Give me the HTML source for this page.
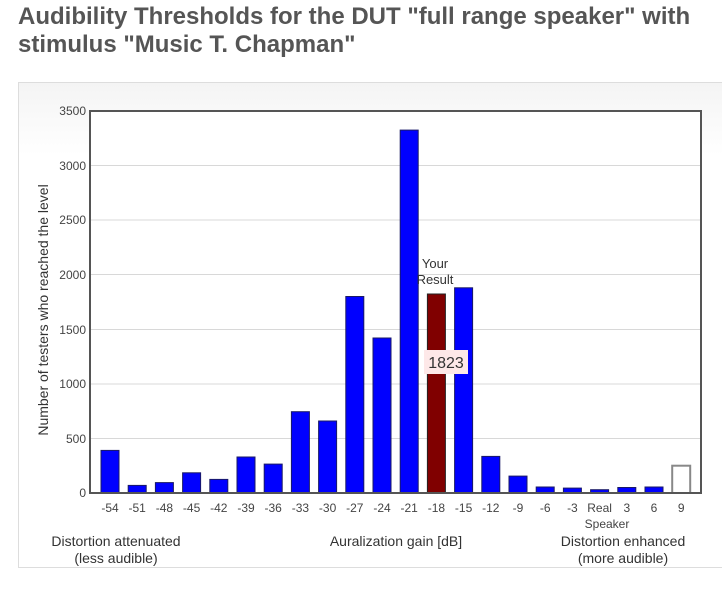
<!DOCTYPE html>
<html><head><meta charset="utf-8"><style>
body{margin:0;background:#fff;width:722px;height:590px;overflow:hidden;font-family:"Liberation Sans",Arial,sans-serif}
h1{position:absolute;left:18px;top:3px;margin:0;font-size:24px;line-height:28px;font-weight:bold;color:#555;white-space:nowrap}
</style></head><body>
<h1>Audibility Thresholds for the DUT "full range speaker" with<br>stimulus "Music T. Chapman"</h1>
<svg width="722" height="590" style="position:absolute;left:0;top:0" font-family="Liberation Sans, Arial, sans-serif">
<defs><linearGradient id="g" x1="0" y1="0" x2="0" y2="1"><stop offset="0" stop-color="#f4f4f4"/><stop offset="0.15" stop-color="#fff"/></linearGradient></defs>
<rect x="18.5" y="82.5" width="710" height="485" fill="url(#g)" stroke="#ddd"/>
<rect x="90" y="111" width="611" height="382" fill="#fff"/>
<g stroke="#d8d8d8" stroke-width="1">
<line x1="90" x2="701" y1="438.5" y2="438.5"/><line x1="90" x2="701" y1="384" y2="384"/><line x1="90" x2="701" y1="329.5" y2="329.5"/><line x1="90" x2="701" y1="274.5" y2="274.5"/><line x1="90" x2="701" y1="220" y2="220"/><line x1="90" x2="701" y1="165.5" y2="165.5"/>
</g>
<g fill="#00f" stroke="#1a1a66" stroke-width="1">
<rect x="101" y="450.4" width="18" height="42.6"/>
<rect x="128.2" y="485.4" width="18" height="7.6"/>
<rect x="155.4" y="482.6" width="18" height="10.4"/>
<rect x="182.6" y="472.8" width="18" height="20.2"/>
<rect x="209.8" y="479.4" width="18" height="13.6"/>
<rect x="237" y="457" width="18" height="36"/>
<rect x="264.2" y="464.1" width="18" height="28.9"/>
<rect x="291.4" y="411.7" width="18" height="81.3"/>
<rect x="318.6" y="421" width="18" height="72"/>
<rect x="345.8" y="296.5" width="18" height="196.5"/>
<rect x="373" y="338" width="18" height="155"/>
<rect x="400.2" y="130.1" width="18" height="362.9"/>
<rect x="427.4" y="294" width="18" height="199" fill="#800000" stroke="#222"/>
<rect x="454.6" y="287.8" width="18" height="205.2"/>
<rect x="481.8" y="456.4" width="18" height="36.6"/>
<rect x="509" y="476.1" width="18" height="16.9"/>
<rect x="536.2" y="487" width="18" height="6"/>
<rect x="563.4" y="488.1" width="18" height="4.9"/>
<rect x="590.6" y="489.7" width="18" height="3.3"/>
<rect x="617.8" y="487.5" width="18" height="5.5"/>
<rect x="645" y="487" width="18" height="6"/>
<rect x="672.2" y="465.7" width="18" height="27.3" fill="#fff" stroke="#888" stroke-width="2"/>
</g>
<path d="M90,111V493H701V111Z" fill="none" stroke="#555" stroke-width="2"/>
<g font-size="12" fill="#444" text-anchor="end">
<text x="86" y="497">0</text><text x="86" y="443">500</text><text x="86" y="388">1000</text><text x="86" y="334">1500</text><text x="86" y="279">2000</text><text x="86" y="224">2500</text><text x="86" y="170">3000</text><text x="86" y="115">3500</text>
</g>
<text transform="translate(48,310) rotate(-90)" text-anchor="middle" font-size="14" fill="#333">Number of testers who reached the level</text>
<g font-size="12" fill="#444" text-anchor="middle">
<text x="110" y="512">-54</text><text x="137.2" y="512">-51</text><text x="164.4" y="512">-48</text><text x="191.6" y="512">-45</text><text x="218.8" y="512">-42</text><text x="246" y="512">-39</text><text x="273.2" y="512">-36</text><text x="300.4" y="512">-33</text><text x="327.6" y="512">-30</text><text x="354.8" y="512">-27</text><text x="382" y="512">-24</text><text x="409.2" y="512">-21</text><text x="436.4" y="512">-18</text><text x="463.6" y="512">-15</text><text x="490.8" y="512">-12</text><text x="518" y="512">-9</text><text x="545.2" y="512">-6</text><text x="572.4" y="512">-3</text><text x="599.6" y="512">Real</text><text x="626.8" y="512">3</text><text x="654" y="512">6</text><text x="681.2" y="512">9</text>
<text x="607" y="528">Speaker</text>
</g>
<g font-size="14" fill="#333" text-anchor="middle">
<text x="116" y="546">Distortion attenuated</text><text x="116" y="563">(less audible)</text>
<text x="396" y="546">Auralization gain [dB]</text>
<text x="623" y="546">Distortion enhanced</text><text x="623" y="563">(more audible)</text>
</g>
<g font-size="13" fill="#333" text-anchor="middle">
<text x="435" y="268">Your</text><text x="435" y="284">Result</text>
</g>
<rect x="424" y="350" width="44" height="24" fill="#fde8e8"/>
<text x="446" y="368" text-anchor="middle" font-size="16" fill="#333">1823</text>
</svg>
</body></html>
